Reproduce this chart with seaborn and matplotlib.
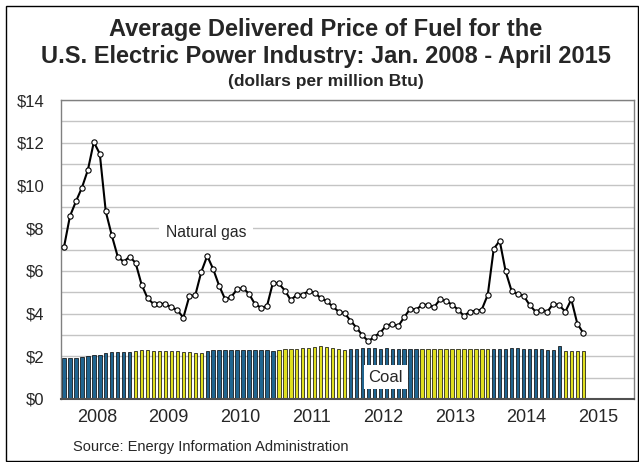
import numpy as np
import pandas as pd
import matplotlib
matplotlib.use("Agg")
import matplotlib.pyplot as plt
import seaborn as sns
from matplotlib.patches import Rectangle

sns.set_style("white")
plt.rcParams["font.family"] = ["Liberation Sans", "DejaVu Sans"]

# monthly prices, Jan 2008 - Apr 2015 (dollars per million Btu)
natural_gas = [
    7.11, 8.56, 9.25, 9.89, 10.72, 12.03, 11.48, 8.78, 7.67, 6.67, 6.42, 6.67,   # 2008
    6.37, 5.36, 4.72, 4.45, 4.47, 4.44, 4.30, 4.16, 3.81, 4.81, 4.86, 5.95,      # 2009
    6.70, 6.08, 5.30, 4.67, 4.78, 5.13, 5.20, 4.92, 4.44, 4.28, 4.34, 5.44,      # 2010
    5.41, 5.08, 4.63, 4.88, 4.89, 5.05, 4.97, 4.73, 4.58, 4.34, 4.09, 4.02,      # 2011
    3.67, 3.34, 2.98, 2.70, 2.92, 3.11, 3.44, 3.52, 3.41, 3.83, 4.22, 4.19,      # 2012
    4.40, 4.42, 4.30, 4.66, 4.59, 4.42, 4.19, 3.89, 4.09, 4.13, 4.19, 4.88,      # 2013
    7.03, 7.41, 5.97, 5.05, 4.92, 4.83, 4.41, 4.09, 4.19, 4.09, 4.47, 4.38,      # 2014
    4.09, 4.66, 3.53, 3.09,                                                      # 2015
]
coal = [
    1.90, 1.90, 1.90, 1.97, 2.02, 2.08, 2.08, 2.17, 2.19, 2.19, 2.18, 2.18,
    2.24, 2.30, 2.30, 2.27, 2.26, 2.25, 2.24, 2.23, 2.22, 2.20, 2.17, 2.16,
    2.24, 2.28, 2.30, 2.28, 2.28, 2.28, 2.28, 2.28, 2.29, 2.28, 2.28, 2.26,
    2.30, 2.33, 2.33, 2.34, 2.38, 2.38, 2.44, 2.46, 2.44, 2.39, 2.35, 2.31,
    2.35, 2.36, 2.38, 2.39, 2.38, 2.35, 2.38, 2.36, 2.36, 2.35, 2.34, 2.35,
    2.33, 2.33, 2.34, 2.34, 2.35, 2.35, 2.33, 2.33, 2.33, 2.33, 2.33, 2.33,
    2.32, 2.33, 2.35, 2.38, 2.40, 2.35, 2.35, 2.35, 2.35, 2.31, 2.31, 2.48,
    2.26, 2.24, 2.24, 2.24,
]
years = [2008, 2009, 2010, 2011, 2012, 2013, 2014, 2015]
y_ticks = [0, 2, 4, 6, 8, 10, 12, 14]
y_labels = ["$0", "$2", "$4", "$6", "$8", "$10", "$12", "$14"]

BLUE = "#0d6aa3"
YELLOW = "#ffff00"

n = len(natural_gas)
df = pd.DataFrame({
    "month": np.arange(n),
    "gas": natural_gas,
    "coal": coal,
    "year": [str(years[0] + i // 12) for i in range(n)],
})
year_colors = {str(y): (BLUE if y % 2 == 0 else YELLOW) for y in years}

fig = plt.figure(figsize=(6.39, 4.62), dpi=100)
ax = fig.add_axes([61 / 639, 63 / 462, 573 / 639, 299 / 462])

sns.barplot(data=df, x="month", y="coal", hue="year", palette=year_colors,
            dodge=False, native_scale=True, width=0.58, edgecolor="black",
            linewidth=0.5, legend=False, ax=ax, zorder=2)
sns.lineplot(data=df, x="month", y="gas", color="black", linewidth=1.5,
             marker="o", markersize=3.8, markerfacecolor="white",
             markeredgecolor="black", markeredgewidth=0.8, ax=ax, zorder=3)

ax.set_xlim(-0.5, 95.5)
ax.set_ylim(0, 14)
ax.set_axisbelow(True)
ax.set_yticks(y_ticks)
ax.set_yticklabels(y_labels)
ax.set_yticks(np.arange(1, 15, 2), minor=True)
ax.yaxis.grid(True, which="both", color="#c4c4c4", linewidth=1.0)
ax.set_xticks([i * 12 + 5.5 for i in range(len(years))])
ax.set_xticklabels([str(y) for y in years])
ax.tick_params(axis="both", which="both", length=0)
ax.tick_params(axis="y", labelsize=12, pad=12)
ax.tick_params(axis="x", labelsize=13, pad=7)
ax.set_xlabel("")
ax.set_ylabel("")
for s in ["top", "right", "left"]:
    ax.spines[s].set_color("#808080")
    ax.spines[s].set_linewidth(1.0)
ax.spines["bottom"].set_color("#505050")
ax.spines["bottom"].set_linewidth(1.5)

ax.text(23.8, 7.8, "Natural gas", fontsize=11.3, ha="center", va="center",
        zorder=4, bbox=dict(facecolor="white", edgecolor="none", pad=5))
ax.text(53.9, 1.03, "Coal", fontsize=12, ha="center", va="center",
        zorder=4, bbox=dict(facecolor="white", edgecolor="none", pad=3.5))

fig.text(0.51, 0.937, "Average Delivered Price of Fuel for the",
         fontsize=17, fontweight="bold", ha="center", va="center")
fig.text(0.51, 0.877, "U.S. Electric Power Industry: Jan. 2008 - April 2015",
         fontsize=17, fontweight="bold", ha="center", va="center")
fig.text(0.51, 0.824, "(dollars per million Btu)",
         fontsize=12.5, fontweight="bold", ha="center", va="center")
fig.text(73 / 639, 1 - 447 / 462, "Source: Energy Information Administration",
         fontsize=10.5, ha="left", va="center")

fig.patches.append(Rectangle((6 / 639, 1 / 462), 632 / 639, 455 / 462,
                             transform=fig.transFigure, fill=False,
                             edgecolor="black", linewidth=1.0))

fig.savefig("out.png", dpi=100)
